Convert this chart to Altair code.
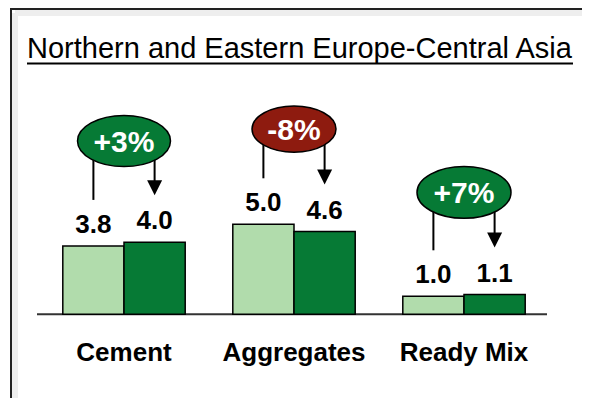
import altair as alt
import pandas as pd

# ---------------- data ----------------
categories = ["Cement", "Aggregates", "Ready Mix"]
prior = [3.8, 5.0, 1.0]
current = [4.0, 4.6, 1.1]
change_labels = ["+3%", "-8%", "+7%"]
change_dir = ["up", "down", "up"]
title_text = "Northern and Eastern Europe-Central Asia"

# ---------------- layout ----------------
W, H = 574, 390
OX, OY = 8, 8
PX_PER_UNIT = 18.0
BASE_PAGE_Y = 314.3
SLOT0_PAGE_X = 124.0
SLOT_PX = 170.0
BAR_W = 0.36
badge_y = [9.63, 10.29, 6.77]
badge_w = [93, 84, 94]
LEFT_GAP = 46 / PX_PER_UNIT
TIP_GAP = 47 / PX_PER_UNIT
TRI = 15
TITLE_SIZE = 29
TITLE_W = 546

LIGHT = "#b1dcac"
DARK = "#067a35"
RED = "#8e1b0f"
FONT = "Liberation Sans"

ELLIPSE = ("M -1 0 C -1 -0.304 -0.552 -0.55 0 -0.55 C 0.552 -0.55 1 -0.304 1 0 "
           "C 1 0.304 0.552 0.55 0 0.55 C -0.552 0.55 -1 0.304 -1 0 Z")
TRIANGLE = "M -1 -1 L 1 -1 L 0 1 Z"

xd0 = (0 + OX - SLOT0_PAGE_X) / SLOT_PX
xd1 = (W + OX - SLOT0_PAGE_X) / SLOT_PX
base_view = BASE_PAGE_Y - OY
yd1 = base_view / PX_PER_UNIT
yd0 = (base_view - H) / PX_PER_UNIT


def ux(page_x):
    return (page_x - SLOT0_PAGE_X) / SLOT_PX


def uy(page_y):
    return (BASE_PAGE_Y - page_y) / PX_PER_UNIT


def X(f):
    return alt.X(f, type="quantitative", scale=alt.Scale(domain=[xd0, xd1], nice=False, zero=False), axis=None)


def Y(f):
    return alt.Y(f, type="quantitative", scale=alt.Scale(domain=[yd0, yd1], nice=False, zero=False), axis=None)


rows = []
for i, c in enumerate(categories):
    rows.append(dict(cat=c, series="prior", x0=i - BAR_W, x1=i, val=prior[i]))
    rows.append(dict(cat=c, series="current", x0=i, x1=i + BAR_W, val=current[i]))
bars_df = pd.DataFrame(rows)
bars_df["xc"] = (bars_df.x0 + bars_df.x1) / 2
bars_df["zero"] = 0.0
bars_df["label"] = bars_df.val.map(lambda v: f"{v:.1f}")
bars_df["fillc"] = [LIGHT if s == "prior" else DARK for s in bars_df.series]

cat_df = pd.DataFrame({"cat": categories, "xi": [float(i) for i in range(len(categories))], "zero": 0.0})

badge_df = pd.DataFrame({
    "xi": [float(i) for i in range(len(categories))],
    "yb": badge_y,
    "label": change_labels,
    "fillc": [DARK if d == "up" else RED for d in change_dir],
    "sz": [float(w * w) for w in badge_w],
    "xl": [i - BAR_W / 2 for i in range(len(categories))],
    "xr": [i + BAR_W / 2 for i in range(len(categories))],
    "yl": [p + LEFT_GAP for p in prior],
    "ytri": [c + TIP_GAP + (TRI / 2) / PX_PER_UNIT for c in current],
})

base_df = pd.DataFrame({"x0": [ux(37)], "x1": [ux(547)], "yy": [0.0]})

bars = alt.Chart(bars_df).mark_rect(stroke="black", strokeWidth=1.5).encode(
    x=X("x0"), x2="x1", y=Y("val"), y2="zero",
    fill=alt.Fill("fillc:N", scale=None),
)

baseline = alt.Chart(base_df).mark_rule(color="#333333", strokeWidth=2).encode(
    x=X("x0"), x2="x1", y=Y("yy")
)

value_labels = alt.Chart(bars_df).mark_text(
    font=FONT, fontSize=26, fontWeight="bold", color="black", baseline="alphabetic", dy=-13
).encode(x=X("xc"), y=Y("val"), text="label:N")

cat_labels = alt.Chart(cat_df).mark_text(
    font=FONT, fontSize=26, fontWeight="bold", color="black", baseline="alphabetic", dy=47
).encode(x=X("xi"), y=Y("zero"), text="cat:N")

left_rules = alt.Chart(badge_df).mark_rule(color="black", strokeWidth=2).encode(
    x=X("xl"), y=Y("yb"), y2="yl"
)
right_rules = alt.Chart(badge_df).mark_rule(color="black", strokeWidth=2).encode(
    x=X("xr"), y=Y("yb"), y2="ytri"
)
tris = alt.Chart(badge_df).mark_point(
    shape=TRIANGLE, filled=True, color="black", size=TRI * TRI, opacity=1
).encode(x=X("xr"), y=Y("ytri"))

ellipses = alt.Chart(badge_df).mark_point(
    shape=ELLIPSE, filled=True, stroke="black", strokeWidth=1.5, opacity=1
).encode(
    x=X("xi"), y=Y("yb"),
    fill=alt.Fill("fillc:N", scale=None),
    size=alt.Size("sz:Q", scale=None),
)
badge_text = alt.Chart(badge_df).mark_text(
    font=FONT, fontSize=30, fontWeight="bold", color="white", baseline="middle", dy=2
).encode(x=X("xi"), y=Y("yb"), text="label:N")

title_df = pd.DataFrame({"t": [title_text], "tx": [ux(27)], "ty": [uy(58)],
                         "tx2": [ux(27 + TITLE_W)], "tyu": [uy(63.5)]})
title = alt.Chart(title_df).mark_text(
    font=FONT, fontSize=TITLE_SIZE, color="black", align="left", baseline="alphabetic"
).encode(x=X("tx"), y=Y("ty"), text="t:N")
underline = alt.Chart(title_df).mark_rule(color="black", strokeWidth=2).encode(
    x=X("tx"), x2="tx2", y=Y("tyu")
)

shadow_df = pd.DataFrame({
    "fx": [ux(15), ux(15)], "fx2": [ux(OX + W + 10), ux(15)],
    "fy": [uy(13), uy(13)], "fy2": [uy(13), uy(OY + H + 10)],
})
border_df = pd.DataFrame({
    "fx": [ux(10), ux(11)], "fx2": [ux(OX + W + 10), ux(11)],
    "fy": [uy(9), uy(8)], "fy2": [uy(9), uy(OY + H + 10)],
})
shadow = alt.Chart(shadow_df).mark_rule(color="#eeeeee", strokeWidth=6).encode(
    x=X("fx"), x2="fx2", y=Y("fy"), y2="fy2"
)
border = alt.Chart(border_df).mark_rule(color="#222222", strokeWidth=2).encode(
    x=X("fx"), x2="fx2", y=Y("fy"), y2="fy2"
)

chart = alt.layer(
    shadow, border,
    title, underline,
    baseline, bars, value_labels, cat_labels,
    left_rules, right_rules, tris, ellipses, badge_text,
).properties(
    width=W, height=H, padding=0, autosize=alt.AutoSizeParams(type="none"),
    background="white",
).configure_view(strokeWidth=0)

chart.save("out.html", embed_options={"renderer": "svg", "actions": False})
